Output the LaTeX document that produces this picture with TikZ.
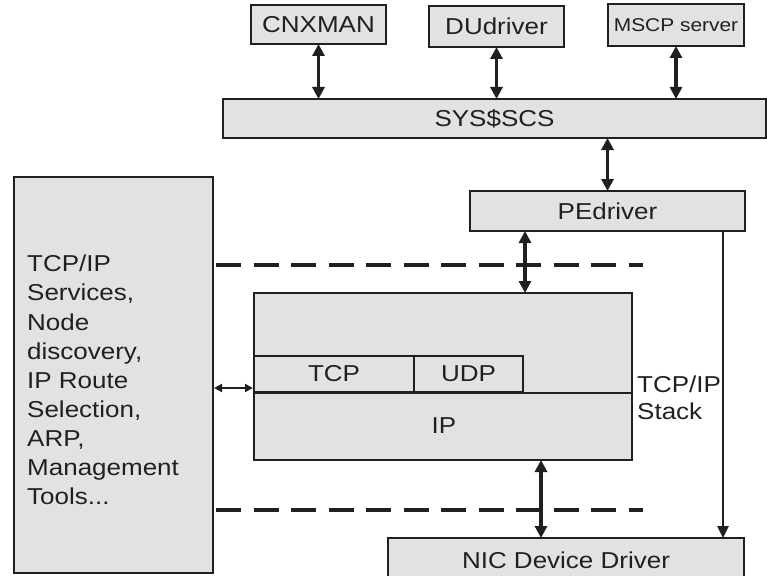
\documentclass[tikz,border=0pt]{standalone}
\usepackage{fontspec}
\setmainfont{Liberation Sans}[FakeStretch=1.13]
\usetikzlibrary{arrows.meta}
\definecolor{boxfill}{HTML}{E1E2E4}
\definecolor{ink}{HTML}{231F20}
\begin{document}
\begin{tikzpicture}[x=1pt,y=-1pt,
  box/.style={draw=ink, fill=boxfill, line width=2pt, inner sep=0pt, anchor=north west,
    font=\fontsize{23}{28}\selectfont, text=ink},
  lbl/.style={inner sep=0pt, text=ink, font=\fontsize{23}{28}\selectfont},
  dbl/.style={draw=ink, line width=3.2pt, {Triangle[length=12pt,width=12pt]}-{Triangle[length=12pt,width=12pt]}, shorten <=-1pt, shorten >=-1pt},
  sgl/.style={draw=ink, line width=2.6pt, -{Triangle[length=12pt,width=11pt]}, shorten >=-1pt},
  thin/.style={draw=ink, line width=2pt, {Triangle[length=8pt,width=8pt]}-{Triangle[length=8pt,width=8pt]}},
  dashline/.style={draw=ink, line width=3.4pt, dash pattern=on 25pt off 12.5pt},
]
\clip (0,0) rectangle (767,575);
\fill[white] (0,0) rectangle (767,575);

% top row
\node[box, minimum width=135pt, minimum height=39pt] (cnx) at (250,4) {CNXMAN};
\node[box, minimum width=135pt, minimum height=41pt] (du) at (428,5) {DUdriver};
\node[box, minimum width=136pt, minimum height=42pt, font=\fontsize{18.5}{22}\selectfont] (mscp) at (607,3) {MSCP server};
\node[box, minimum width=543pt, minimum height=39pt] (sys) at (222,98) {SYS\$SCS};
\node[box, minimum width=275pt, minimum height=40pt] (pe) at (469,190) {PEdriver};

% left services box
\node[box, minimum width=199pt, minimum height=396pt] (svc) at (13,176) {};
\node[lbl, anchor=north west, align=left, font=\fontsize{23}{29.1}\selectfont] (svctext) at (27,255)
  {TCP/IP\\Services,\\Node\\discovery,\\IP Route\\Selection,\\ARP,\\Management\\Tools...};

% TCP/IP stack
\node[box, minimum width=378pt, minimum height=167pt] (stack) at (253,292) {};
\node[box, minimum width=160pt, minimum height=36pt] (tcp) at (253,355) {TCP};
\node[box, minimum width=109pt, minimum height=36pt] (udp) at (413,355) {UDP};
\draw[ink, line width=2pt] (stack.west |- tcp.south) -- (stack.east |- tcp.south);
\node[lbl] (ip) at (444,426) {IP};
\node[lbl, anchor=north west, align=left, font=\fontsize{23}{26.5}\selectfont] (stacklbl) at (637,376) {TCP/IP\\Stack};

% NIC
\node[box, minimum width=356pt, minimum height=44pt] (nic) at (387,537) {NIC Device Driver};

% dashed boundaries
\coordinate (dtop) at (643,265);
\coordinate (dbot) at (643,510);
\draw[dashline] (svc.east |- dtop) ++(2,0) -- (dtop);
\draw[dashline] (svc.east |- dbot) ++(2,0) -- (dbot);

% connectors
\draw[dbl] (cnx.south) -- (cnx.south |- sys.north);
\draw[dbl] (du.south) -- (du.south |- sys.north);
\draw[dbl] (mscp.south) -- (mscp.south |- sys.north);
\draw[dbl] (pe.north) -- (pe.north |- sys.south);
\coordinate (xa) at (525,0);
\draw[dbl] (pe.south -| xa) -- (stack.north -| xa);
\coordinate (xb) at (541,0);
\draw[dbl] (stack.south -| xb) -- (nic.north -| xb);
\coordinate (xc) at (723,0);
\draw[sgl] (pe.south -| xc) -- (nic.north -| xc);
\coordinate (yl) at (0,388);
\draw[thin] (svc.east |- yl) -- (stack.west |- yl);
\end{tikzpicture}
\end{document}
